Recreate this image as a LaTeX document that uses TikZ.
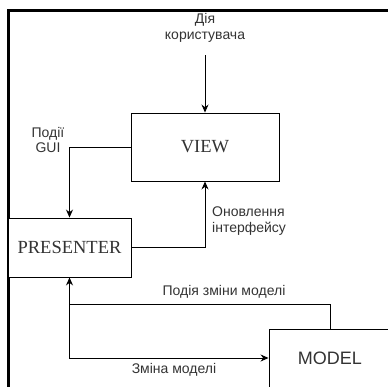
\documentclass[tikz,border=0pt]{standalone}
\usepackage{fontspec}
\setmainfont{Liberation Serif}
\setsansfont{Liberation Sans}
\usetikzlibrary{arrows.meta}
\definecolor{labelgray}{HTML}{333333}
\tikzset{
  block/.style={draw=black, line width=0.9pt, fill=white, inner sep=0pt, text=labelgray},
  serifbox/.style={block, font=\rmfamily\fontsize{18.5}{20}\selectfont},
  sansbox/.style={block, font=\sffamily\fontsize{18}{20}\selectfont},
  lbl/.style={font=\sffamily\fontsize{14}{15.5}\selectfont, text=labelgray, inner sep=0pt, align=center},
  arr/.style={draw=black, line width=1pt, -{Stealth[length=8pt,width=7pt]}},
  link/.style={draw=black, line width=1pt}
}
\begin{document}
\begin{tikzpicture}[x=1pt, y=-1pt]
\useasboundingbox (0,0) rectangle (388,386);
\begin{scope}
\clip (0,0) rectangle (388,386);
% outer frame (top and left edges)
\draw[line width=3pt, line cap=rect] (8,390) -- (8,10) -- (392,10);

% components
\node[serifbox, minimum width=148pt, minimum height=68pt] (view) at (205,147) {VIEW};
\node[serifbox, minimum width=123pt, minimum height=59pt] (presenter) at (69.5,247.5) {PRESENTER};
\node[sansbox, minimum width=122pt, minimum height=58pt] (model) at (330,358) {MODEL};

% labels
\node[lbl] (user) at (205,28) {Дія\\користувача};
\node[lbl] (gui) at (48,140) {Події\\GUI};
\node[lbl, anchor=west, align=left] (upd) at (212,221) {Оновлення\\інтерфейсу};
\node[lbl] (mevent) at (224,292) {Подія зміни моделі};
\node[lbl] (mchange) at (174,370) {Зміна моделі};

% connectors
\coordinate (ustart) at (205,55);
\coordinate (junc) at (69.5,304);
\draw[arr] (ustart) -- (view.north);
\draw[arr] (view.west) -| (presenter.north);
\draw[arr] (presenter.east) -| (view.south);
\draw[arr] (model.north) |- (junc) -- (presenter.south);
\draw[arr] (junc) |- (model.west);
\end{scope}
\end{tikzpicture}
\end{document}
